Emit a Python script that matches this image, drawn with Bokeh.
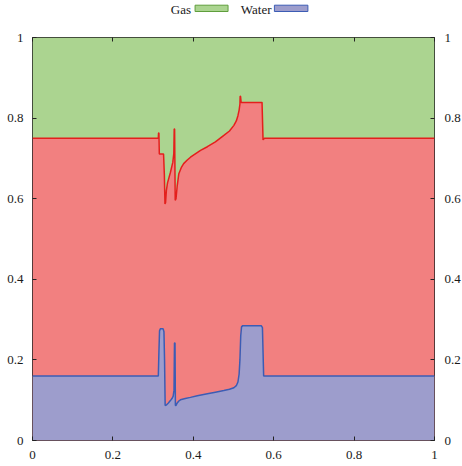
from bokeh.plotting import figure
from bokeh.layouts import column
from bokeh.models import FixedTicker, LinearAxis, CustomJSTickFormatter, Range1d
from bokeh.core.properties import value
from bokeh.embed import file_html
from bokeh.resources import INLINE

ticks = [0, 0.2, 0.4, 0.6, 0.8, 1]
legend_names = ["Gas", "Water"]

# Water saturation (bottom layer boundary)
water_x = [0.0, 0.313, 0.3145, 0.316, 0.318, 0.325, 0.327, 0.3285, 0.330, 0.333, 0.338, 0.343,
           0.347, 0.350, 0.352, 0.3532, 0.3545, 0.3555, 0.357, 0.360, 0.364, 0.368, 0.380, 0.393,
           0.410, 0.435, 0.455, 0.476, 0.490, 0.501, 0.507, 0.511, 0.514, 0.516, 0.518, 0.520,
           0.523, 0.569, 0.572, 0.575, 1.0]
water_y = [0.16, 0.16, 0.22, 0.272, 0.277, 0.277, 0.270, 0.20, 0.087, 0.088, 0.093, 0.099,
           0.104, 0.110, 0.125, 0.242, 0.242, 0.087, 0.087, 0.093, 0.098, 0.101, 0.104, 0.107,
           0.111, 0.116, 0.120, 0.124, 0.127, 0.131, 0.136, 0.145, 0.165, 0.200, 0.260, 0.282,
           0.285, 0.285, 0.280, 0.16, 0.16]

# Water + oil (boundary with gas)
gas_x = [0.0, 0.313, 0.3135, 0.3145, 0.3155, 0.326, 0.328, 0.3295, 0.331, 0.333, 0.336, 0.343,
         0.349, 0.3515, 0.3525, 0.3535, 0.355, 0.357, 0.360, 0.364, 0.370, 0.376, 0.385, 0.393,
         0.418, 0.435, 0.455, 0.476, 0.490, 0.501, 0.507, 0.511, 0.514, 0.516, 0.5165, 0.5175,
         0.519, 0.571, 0.5735, 0.577, 1.0]
oil_top = [0.75, 0.75, 0.763, 0.763, 0.711, 0.711, 0.66, 0.587, 0.59, 0.62, 0.64, 0.665,
           0.69, 0.712, 0.773, 0.773, 0.596, 0.60, 0.632, 0.662, 0.677, 0.687, 0.696, 0.703,
           0.72, 0.729, 0.741, 0.757, 0.768, 0.782, 0.793, 0.806, 0.82, 0.835, 0.854, 0.854,
           0.839, 0.839, 0.746, 0.75, 0.75]

GREEN = "#abd490"
RED = "#f28080"
BLUE = "#9d9dcc"
RED_LINE = "#e41f1c"
BLUE_LINE = "#3c5cb4"
FONT = "'Liberation Serif', 'Times New Roman', Times, serif"
TOTAL_W = 462
LEG_H = 20

# ---- legend strip (label to the left of its swatch, gnuplot style) ----
leg = figure(width=TOTAL_W, height=LEG_H, x_range=Range1d(0, TOTAL_W), y_range=Range1d(LEG_H, 0),
             min_border=0, output_backend="svg", toolbar_location=None)
leg.axis.visible = False
leg.grid.visible = False
leg.outline_line_color = None
leg.text(x=[159.3, 240.0], y=[8.5, 8.5], text=legend_names, text_font=value(FONT),
         text_font_size="13px", text_color="#1a1a1a", text_baseline="middle", text_align="left")
leg.quad(left=[187.3, 278.7], right=[225.3, 317.3], top=[4.7, 4.7], bottom=[11.0, 11.0],
         fill_color=[GREEN, BLUE], line_color=["#5f9e3c", BLUE_LINE], line_width=1)

# ---- main plot ----
p = figure(frame_width=402, frame_height=403, x_range=Range1d(0, 1), y_range=Range1d(0, 1),
           min_border_left=32, min_border_right=28, min_border_top=37 - LEG_H, min_border_bottom=26,
           output_backend="svg", toolbar_location=None)
p.xgrid.visible = False
p.ygrid.visible = False
p.outline_line_color = "#222222"
p.outline_line_width = 1
p.background_fill_color = "white"

p.varea(x=gas_x, y1=oil_top, y2=1, fill_color=GREEN)
p.varea(x=gas_x, y1=0, y2=oil_top, fill_color=RED)
p.varea(x=water_x, y1=0, y2=water_y, fill_color=BLUE)
p.line(gas_x, oil_top, line_color=RED_LINE, line_width=1.5)
p.line(water_x, water_y, line_color=BLUE_LINE, line_width=1.5)

p.add_layout(LinearAxis(), "right")
p.add_layout(LinearAxis(), "above")

fmt = CustomJSTickFormatter(code="return tick.toString();")
for ax in p.axis:
    ax.ticker = FixedTicker(ticks=ticks)
    ax.formatter = fmt
    ax.axis_line_color = None
    ax.major_tick_in = 4
    ax.major_tick_out = 0
    ax.minor_tick_in = 0
    ax.minor_tick_out = 0
    ax.major_tick_line_color = "#222222"
    ax.major_label_text_font = FONT
    ax.major_label_text_font_size = "13px"
    ax.major_label_text_color = "#1a1a1a"

p.below[0].major_label_standoff = 10
p.left[0].major_label_standoff = 9
p.right[0].major_label_standoff = 10
p.above[0].formatter = CustomJSTickFormatter(code="return '';")
p.above[0].major_label_standoff = 0

layout = column(leg, p, spacing=0)
open("out.html", "w").write(file_html(layout, INLINE))
